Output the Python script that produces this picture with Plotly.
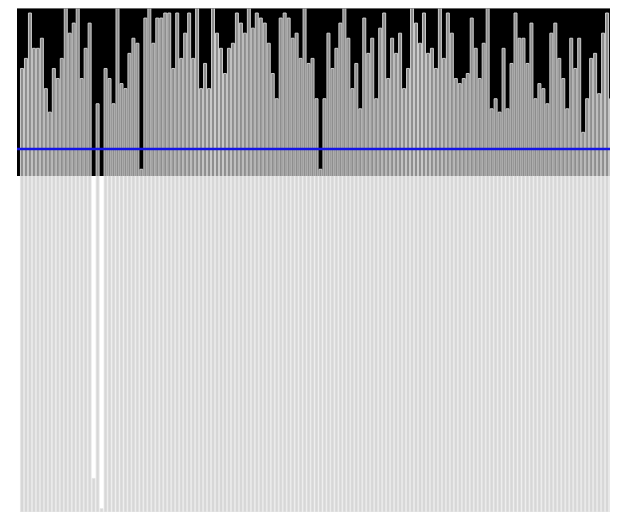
import plotly.graph_objects as go

# bar index (category positions)
categories = list(range(150))

# bar values (broken axis: lower panel 0-100, upper panel 100-200)
values = [
    164, 170, 197, 176, 176, 182, 152, 138, 164, 158,
    170, 210, 185, 191, 210, 158, 176, 191, 10, 143,
    1, 164, 158, 143, 210, 155, 152, 173, 182, 179,
    104, 194, 210, 179, 194, 194, 197, 197, 164, 197,
    170, 185, 197, 170, 210, 152, 167, 152, 210, 185,
    176, 161, 176, 179, 197, 191, 185, 210, 188, 197,
    194, 191, 179, 161, 146, 194, 197, 194, 182, 185,
    170, 210, 167, 170, 146, 104, 146, 185, 164, 176,
    191, 210, 182, 152, 167, 140, 194, 173, 182, 146,
    188, 197, 158, 182, 173, 185, 152, 164, 210, 191,
    179, 197, 173, 176, 164, 210, 170, 197, 185, 158,
    155, 158, 161, 194, 176, 158, 179, 210, 140, 146,
    138, 176, 140, 167, 197, 182, 182, 167, 191, 146,
    155, 152, 143, 185, 191, 170, 158, 140, 182, 164,
    182, 126, 146, 170, 173, 149, 185, 197, 146, 194,
]

reference_level = 116
lower_range = [0, 100]
upper_range = [100, 200]

fig = go.Figure()

fig.add_trace(go.Bar(
    x=categories, y=values, xaxis="x", yaxis="y",
    marker=dict(color="#d7d7d7", line=dict(color="#e6e6e6", width=0.8)),
    showlegend=False, hoverinfo="skip",
))
fig.add_trace(go.Bar(
    x=categories, y=values, xaxis="x", yaxis="y2",
    marker=dict(color="#8e8e8e", line=dict(color="#cccccc", width=1)),
    showlegend=False, hoverinfo="skip",
))

split = 336 / 504

fig.update_layout(
    width=610, height=504,
    margin=dict(l=9, r=0, t=0, b=0),
    paper_bgcolor="white", plot_bgcolor="white",
    barmode="overlay", bargap=0.25,
    xaxis=dict(range=[-1.25, 149.75], showticklabels=False, showgrid=False,
               zeroline=False, ticks="", showline=False),
    yaxis=dict(domain=[0, split], range=lower_range, showticklabels=False,
               showgrid=False, zeroline=False, ticks="", showline=False),
    yaxis2=dict(domain=[split, 1], range=upper_range, anchor="x",
                showticklabels=False, showgrid=False, zeroline=False,
                ticks="", showline=False),
    shapes=[
        dict(type="rect", xref="x domain", yref="y2 domain", x0=0, x1=1,
             y0=0, y1=1, fillcolor="black", line=dict(width=0), layer="below"),
        dict(type="line", xref="x domain", yref="y2", x0=0, x1=1,
             y0=reference_level, y1=reference_level,
             line=dict(color="#1414e6", width=2.5)),
        dict(type="line", xref="x domain", yref="y2 domain", x0=0, x1=1,
             y0=1, y1=1, line=dict(color="#8a8a8a", width=1.5)),
    ],
)

fig.write_html("out.html")
